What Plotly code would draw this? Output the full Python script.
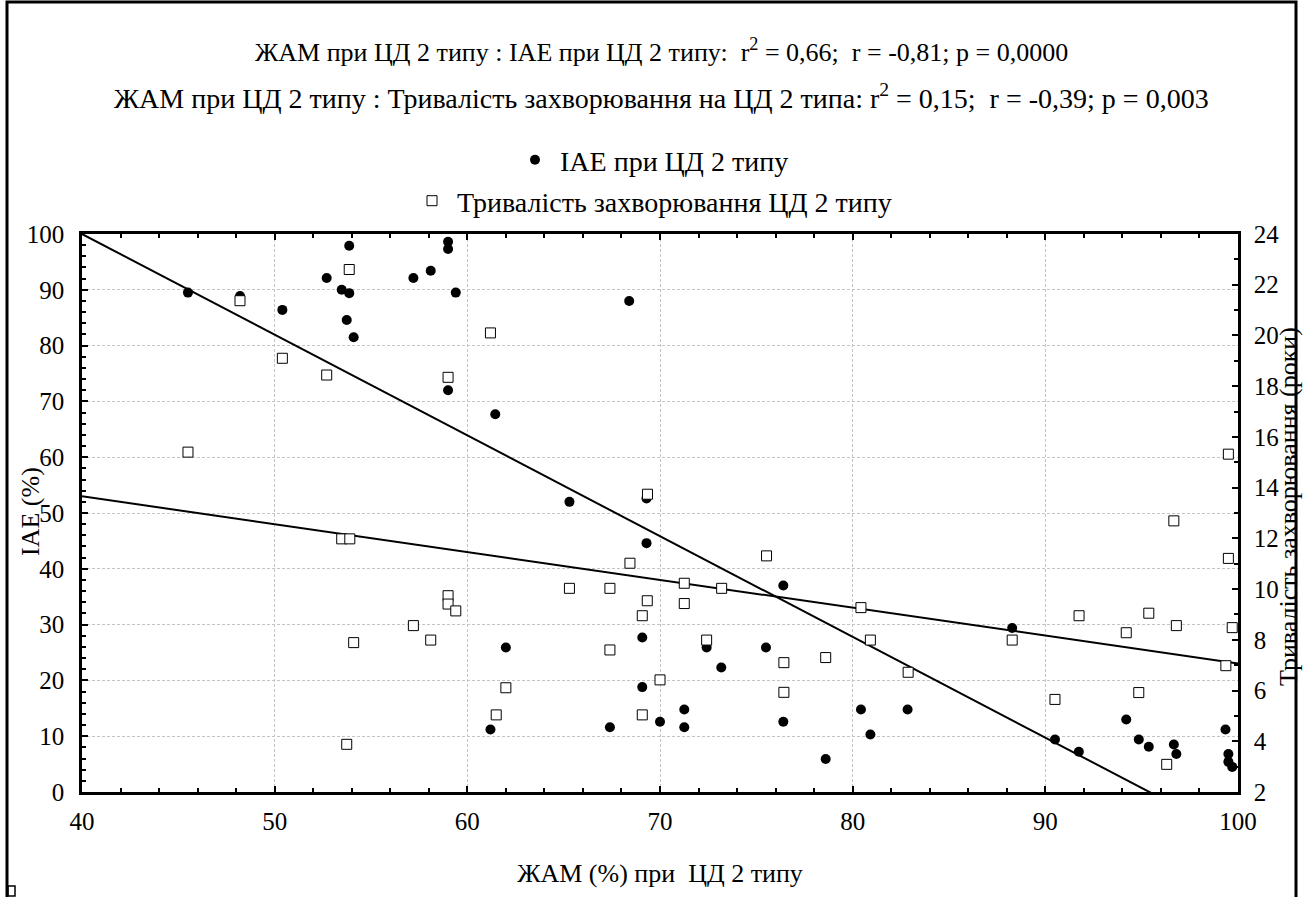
import plotly.graph_objects as go

# ---- data ----
iae_x = [45.5, 48.2, 50.4, 53.87, 52.7, 53.48, 53.87, 53.74, 54.1, 59.0, 59.0, 57.2, 58.1, 59.4,
         68.4, 59.0, 61.45, 65.3, 69.3, 69.3, 69.08, 62.0, 69.08, 61.2, 67.4, 70.0, 76.4, 72.42,
         75.5, 73.18, 71.26, 71.26, 76.4, 80.43, 82.85, 80.92, 78.6, 88.28, 90.5, 91.74, 94.2,
         94.85, 95.37, 96.67, 96.8, 99.35, 99.5, 99.5, 99.7]
iae_y = [89.5, 88.9, 86.4, 97.9, 92.1, 90.0, 89.4, 84.6, 81.5, 98.6, 97.3, 92.1, 93.4, 89.5,
         88.0, 72.0, 67.7, 52.0, 52.6, 44.6, 27.7, 25.9, 18.8, 11.2, 11.6, 12.6, 37.0, 25.9,
         25.9, 22.3, 14.8, 11.6, 12.6, 14.8, 14.8, 10.3, 5.9, 29.4, 9.4, 7.2, 13.0,
         9.4, 8.1, 8.5, 6.8, 11.2, 6.8, 5.4, 4.5]

dur_x = [53.87, 48.2, 50.4, 52.7, 45.5, 61.2, 59.0, 69.35, 53.48, 53.9, 54.1, 53.74, 59.0, 59.0,
         59.4, 57.2, 58.1, 65.3, 67.4, 68.44, 69.34, 69.08, 67.4, 62.0, 61.5, 69.08, 70.0, 75.53,
         71.26, 73.2, 71.26, 80.43, 72.42, 80.92, 76.43, 78.6, 82.88, 76.43, 96.67, 99.5, 91.75,
         95.37, 94.2, 96.8, 99.7, 88.28, 99.37, 94.85, 90.5, 96.3, 99.5]
dur_y = [22.6, 21.37, 19.1, 18.44, 15.4, 20.1, 18.35, 13.74, 11.98, 11.98, 7.89, 3.88, 9.74, 9.41,
         9.14, 8.56, 7.99, 10.03, 10.03, 11.02, 9.54, 8.95, 7.6, 6.11, 5.04, 5.04, 6.42, 11.31,
         10.23, 10.03, 9.43, 9.27, 7.99, 7.99, 7.1, 7.3, 6.72, 5.93, 12.69, 11.21, 8.95,
         9.05, 8.28, 8.56, 8.48, 7.99, 6.98, 5.92, 5.65, 3.09, 15.32]

# regression lines (intercept, slope)
iae_fit = (172.2, -1.805)
dur_fit = (18.05, -0.1098)
fit_x = [40, 100]

NB = "\u00a0"
title1 = f"ЖАМ при ЦД 2 типу : ІАЕ при ЦД 2 типу:{NB} r<sup>2</sup> = 0,66;{NB} r = -0,81; p = 0,0000"
title2 = f"ЖАМ при ЦД 2 типу : Тривалість захворювання на ЦД 2 типа: r<sup>2</sup> = 0,15;{NB} r = -0,39; p = 0,003"
name_iae = "ІАЕ при ЦД 2 типу"
name_dur = "Тривалість захворювання ЦД 2 типу"
x_title = f"ЖАМ (%) при{NB} ЦД 2 типу"
y_title = "ІАЕ (%)"
y2_title = "Тривалість захворювання (роки)"

FONT = "Liberation Serif"
FS = 26
FT = 25

fig = go.Figure()
fig.add_trace(go.Scatter(x=fit_x, y=[iae_fit[0] + iae_fit[1] * v for v in fit_x], mode="lines",
                         line=dict(color="black", width=2), showlegend=False, hoverinfo="skip"))
fig.add_trace(go.Scatter(x=fit_x, y=[dur_fit[0] + dur_fit[1] * v for v in fit_x], mode="lines",
                         line=dict(color="black", width=2), showlegend=False, yaxis="y2",
                         hoverinfo="skip"))
fig.add_trace(go.Scatter(x=iae_x, y=iae_y, mode="markers", name=name_iae,
                         marker=dict(symbol="circle", size=10, color="black"), legend="legend"))
fig.add_trace(go.Scatter(x=dur_x, y=dur_y, mode="markers", name=name_dur, yaxis="y2",
                         marker=dict(symbol="square", size=10, color="white",
                                     line=dict(color="black", width=1)), legend="legend2"))

W, H = 1305, 897
L, R, T, B = 82, 1238, 234, 792
pw, ph = R - L, B - T


def px(x):
    return (x - L) / pw


def py(y):
    return (B - y) / ph


axis_common = dict(showline=True, linecolor="black", linewidth=2.5, ticks="inside",
                   tickcolor="black", tickwidth=2, ticklen=6,
                   tickfont=dict(family=FONT, size=FT, color="black"),
                   showgrid=True, gridcolor="#c4c4c4", griddash="3px,2px", gridwidth=1,
                   zeroline=False)

fig.update_layout(
    width=W, height=H,
    margin=dict(l=L, r=W - R, t=T, b=H - B, autoexpand=False),
    paper_bgcolor="white", plot_bgcolor="white",
    font=dict(family=FONT, size=FS, color="black"),
    xaxis=dict(range=[40, 100], dtick=10, mirror="ticks", ticklabelstandoff=5,
               minor=dict(dtick=2, ticks="inside", ticklen=4, tickcolor="black", tickwidth=1.5,
                          showgrid=False),
               title=dict(text=x_title, font=dict(family=FONT, size=FS), standoff=31),
               **axis_common),
    yaxis=dict(range=[0, 100], dtick=10, ticklabelstandoff=10,
               minor=dict(dtick=2, ticks="inside", ticklen=4, tickcolor="black", tickwidth=1.5,
                          showgrid=False),
               **axis_common),
    yaxis2=dict(range=[2, 24], dtick=2, overlaying="y", side="right", ticklabelstandoff=8,
                minor=dict(dtick=1, ticks="inside", ticklen=4, tickcolor="black", tickwidth=1.5,
                           showgrid=False),
                **{**axis_common, "showgrid": False}),
    legend=dict(x=px(652), xanchor="center", y=py(160), yanchor="middle",
                bgcolor="rgba(0,0,0,0)", font=dict(family=FONT, size=28), itemwidth=40),
    legend2=dict(x=px(652), xanchor="center", y=py(201), yanchor="middle",
                 bgcolor="rgba(0,0,0,0)", font=dict(family=FONT, size=28), itemwidth=40),
    annotations=[
        dict(text=title1, x=px(661), y=py(50), xref="paper", yref="paper", showarrow=False,
             xanchor="center", yanchor="middle", font=dict(family=FONT, size=FS)),
        dict(text=title2, x=px(661), y=py(96), xref="paper", yref="paper", showarrow=False,
             xanchor="center", yanchor="middle", font=dict(family=FONT, size=28)),
        dict(text=y_title, x=px(30), y=py(512), xref="paper", yref="paper", showarrow=False,
             xanchor="center", yanchor="middle", textangle=-90,
             font=dict(family=FONT, size=FS)),
        dict(text=y2_title, x=px(1288), y=py(507), xref="paper", yref="paper",
             showarrow=False, xanchor="center", yanchor="middle", textangle=-90,
             font=dict(family=FONT, size=FS)),
    ],
    shapes=[
        dict(type="rect", xref="paper", yref="paper", x0=px(7), x1=px(1296), y0=py(930),
             y1=py(2), line=dict(color="black", width=3), layer="above"),
        dict(type="rect", xref="paper", yref="paper", x0=px(8), x1=px(15), y0=py(896),
             y1=py(886), line=dict(color="black", width=1.5)),
    ],
)

fig.write_html("out.html", config={"displayModeBar": False},
               post_script="document.body.style.margin='0';")
